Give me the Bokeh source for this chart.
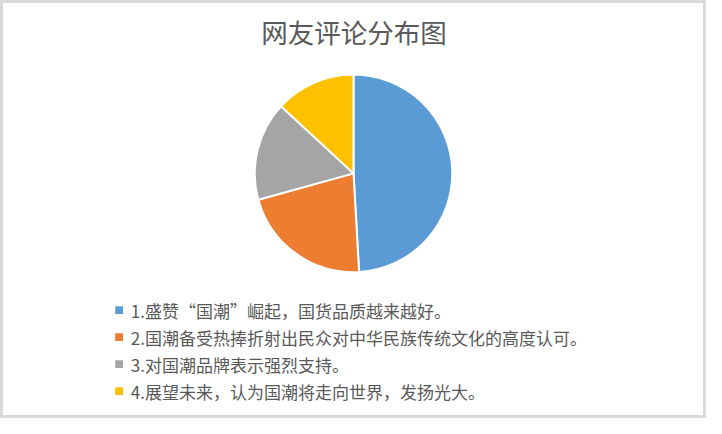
import numpy as np
from bokeh.plotting import figure
from bokeh.models import Range1d, ColumnDataSource
from bokeh.core.properties import value
from bokeh.embed import file_html
from bokeh.resources import INLINE

title = "网友评论分布图"
labels = [
    "1.盛赞“国潮”崛起，国货品质越来越好。",
    "2.国潮备受热捧折射出民众对中华民族传统文化的高度认可。",
    "3.对国潮品牌表示强烈支持。",
    "4.展望未来，认为国潮将走向世界，发扬光大。",
]
shares = [49.1, 21.6, 16.2, 13.1]
colors = ["#5B9BD5", "#ED7D31", "#A5A5A5", "#FFC000"]

FONT = value("Noto Sans CJK SC")

# data units laid out on a 722x434 grid, drawn into a 706x418 figure
p = figure(width=706, height=418, output_backend="svg", toolbar_location=None,
           x_range=Range1d(0, 722), y_range=Range1d(0, 434),
           x_axis_type=None, y_axis_type=None, min_border=0)
p.grid.visible = False
p.outline_line_color = "#D9D9D9"
p.outline_line_width = 5

# pie, clockwise from 12 o'clock
frac = np.array(shares) / sum(shares)
cum = np.concatenate([[0], np.cumsum(frac)]) * 2 * np.pi
pie = ColumnDataSource(dict(
    start=np.pi / 2 - cum[:-1],
    end=np.pi / 2 - cum[1:],
    color=colors,
))
p.wedge(x=361, y=254.5, radius=101, start_angle="start", end_angle="end",
        direction="clock", fill_color="color", line_color="white",
        line_width=2, source=pie)

# title
p.text(x=[361.5], y=[401.5], text=[title], text_align="center",
       text_baseline="middle", text_font=FONT, text_font_size="26.5px",
       text_color="#595959")

# legend below the pie
rows = [112.5, 84.5, 56.5, 28.5]
p.rect(x=[121.3] * 4, y=rows, width=8, height=8, fill_color=colors,
       line_color=None)
p.text(x=[133.3] * 4, y=rows, text=labels, text_align="left",
       text_baseline="middle", text_font=FONT, text_font_size="17px",
       text_color="#595959")

open("out.html", "w").write(file_html(p, INLINE))
